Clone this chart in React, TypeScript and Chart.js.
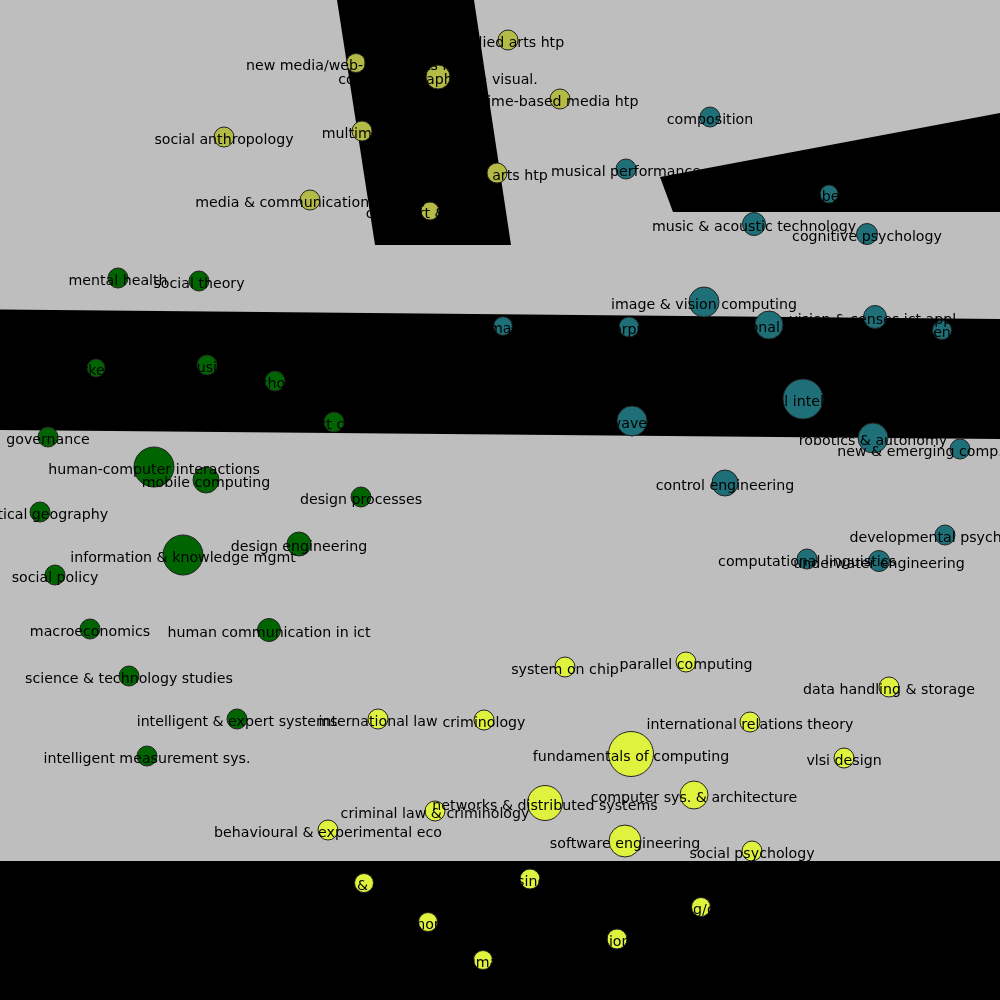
import { useEffect, useRef } from "react"
import { Chart, registerables } from "chart.js"

Chart.register(...registerables)

// arts / media cluster
const oliveLabels = [
  "social anthropology",
  "media & communication studies",
  "new media/web-based arts htp",
  "computer graphics & visual.",
  "multimedia",
  "applied arts htp",
  "time-based media htp",
  "visual arts htp",
  "cyber art & media",
]
const oliveX = [224, 310, 356, 438, 362, 508, 560, 497, 430]
const oliveY = [137, 200, 63, 77, 131, 40, 99, 173, 211]
const oliveR = [10, 10, 9.5, 12, 10, 10, 10, 10, 9]

// music / ai / robotics cluster
const tealLabels = [
  "composition",
  "musical performance",
  "fiber",
  "music & acoustic technology",
  "cognitive psychology",
  "image & vision computing",
  "computational perception",
  "vision & senses ict appl.",
  "agenda",
  "animation",
  "corpus",
  "artificial intelligence",
  "waves",
  "robotics & autonomy",
  "new & emerging comp. paradigms",
  "control engineering",
  "developmental psychology",
  "computational linguistics",
  "underwater engineering",
]
const tealX = [710, 626, 829, 754, 867, 704, 769, 875, 942, 503, 629, 803, 632, 873, 960, 725, 945, 807, 879]
const tealY = [117, 169, 194, 224, 234, 302, 325, 317, 330, 326, 327, 399, 421, 438, 449, 483, 535, 559, 561]
const tealR = [10, 10, 9, 11.5, 10.5, 15, 14, 11.5, 9.5, 9.3, 10, 20, 15, 15, 10, 13, 10, 10, 10.5]

// social science / hci cluster
const greenLabels = [
  "mental health",
  "social theory",
  "marketing",
  "housing",
  "school",
  "contact centres",
  "governance",
  "human-computer interactions",
  "mobile computing",
  "political geography",
  "design processes",
  "information & knowledge mgmt",
  "design engineering",
  "social policy",
  "macroeconomics",
  "human communication in ict",
  "science & technology studies",
  "intelligent & expert systems",
  "intelligent measurement sys.",
]
const greenX = [118, 199, 96, 207, 275, 334, 48, 154, 206, 40, 361, 183, 299, 55, 90, 269, 129, 237, 147]
const greenY = [278, 281, 368, 365, 381, 422, 437, 467, 480, 512, 497, 555, 544, 575, 629, 630, 676, 719, 756]
const greenR = [10, 10, 9, 10, 10, 10, 10, 20, 13, 10, 10, 20, 12, 10, 10, 11.5, 10, 10, 10]

// computing / law cluster
const yellowLabels = [
  "system on chip",
  "parallel computing",
  "data handling & storage",
  "international law",
  "criminology",
  "international relations theory",
  "fundamentals of computing",
  "vlsi design",
  "computer sys. & architecture",
  "networks & distributed systems",
  "criminal law & criminology",
  "behavioural & experimental eco",
  "software engineering",
  "social psychology",
  "r & d",
  "business",
  "minority",
  "pragmatics",
  "pension law",
  "imaging/display",
]
const yellowX = [565, 686, 889, 378, 484, 750, 631, 844, 694, 545, 435, 328, 625, 752, 364, 530, 428, 483, 617, 701]
const yellowY = [667, 662, 687, 719, 720, 722, 754, 758, 795, 803, 811, 830, 841, 851, 883, 879, 922, 960, 939, 907]
const yellowR = [10, 10, 10, 10, 10, 10, 22.5, 10, 14, 17.5, 10, 10, 16, 10, 9.5, 10, 9.5, 9.5, 10, 9.5]

// black occluding shapes
const topBlockX = [337, 474, 511, 375]
const topBlockY = [0, 0, 245, 245]
const rightBlockX = [660, 1000, 1000, 673]
const rightBlockY = [177, 113, 212, 212]
const midBandX = [0, 1000, 1000, 0]
const midBandY = [309.5, 319, 439, 430]
const bottomBandX = [0, 1000, 1000, 0]
const bottomBandY = [861, 861, 1000, 1000]

const blocks = [
  [topBlockX, topBlockY],
  [rightBlockX, rightBlockY],
  [midBandX, midBandY],
  [bottomBandX, bottomBandY],
]

const groups = [
  { labels: oliveLabels, xs: oliveX, ys: oliveY, rs: oliveR, color: "#b3ba45" },
  { labels: tealLabels, xs: tealX, ys: tealY, rs: tealR, color: "#1e6f78" },
  { labels: greenLabels, xs: greenX, ys: greenY, rs: greenR, color: "#006400" },
  { labels: yellowLabels, xs: yellowX, ys: yellowY, rs: yellowR, color: "#dff23e" },
]

const blocksPlugin = {
  id: "blocks",
  beforeDatasetsDraw(chart: any) {
    const { ctx, scales } = chart
    ctx.save()
    ctx.fillStyle = "#000"
    for (const [xs, ys] of blocks) {
      ctx.beginPath()
      xs.forEach((v, i) => {
        const px = scales.x.getPixelForValue(v)
        const py = scales.y.getPixelForValue(ys[i])
        if (i === 0) ctx.moveTo(px, py)
        else ctx.lineTo(px, py)
      })
      ctx.closePath()
      ctx.fill()
    }
    ctx.restore()
  },
}

// labels centred on each bubble, drawn over everything
const labelsPlugin = {
  id: "bubbleLabels",
  afterDatasetsDraw(chart: any) {
    const { ctx } = chart
    ctx.save()
    ctx.font = '14.2px "DejaVu Sans"'
    ctx.fillStyle = "#000"
    ctx.textAlign = "center"
    ctx.textBaseline = "middle"
    groups.forEach((g, i) => {
      const meta = chart.getDatasetMeta(i)
      meta.data.forEach((el: any, j: number) => {
        ctx.fillText(g.labels[j], el.x, el.y + 3)
      })
    })
    ctx.restore()
  },
}

export default function App() {
  const chartRef = useRef<HTMLCanvasElement>(null)
  const chartInstance = useRef<Chart | null>(null)

  useEffect(() => {
    document.body.style.margin = "0"
    if (!chartRef.current) return
    if (chartInstance.current) chartInstance.current.destroy()

    const ctx = chartRef.current.getContext("2d")
    if (!ctx) return

    chartInstance.current = new Chart(ctx, {
      type: "bubble",
      data: {
        datasets: groups.map((g) => ({
          data: g.xs.map((x, i) => ({ x, y: g.ys[i], r: g.rs[i] })),
          backgroundColor: g.color,
          borderColor: "#222",
          borderWidth: 1,
          clip: false,
        })),
      },
      options: {
        animation: false,
        responsive: true,
        maintainAspectRatio: false,
        layout: { padding: 0, autoPadding: false },
        scales: {
          x: { type: "linear", min: 0, max: 1000, display: false },
          y: { type: "linear", min: 0, max: 1000, reverse: true, display: false },
        },
        plugins: {
          legend: { display: false },
          tooltip: { enabled: false },
        },
      },
      plugins: [blocksPlugin, labelsPlugin],
    })

    return () => {
      if (chartInstance.current) {
        chartInstance.current.destroy()
        chartInstance.current = null
      }
    }
  }, [])

  return (
    <div style={{ width: 1000, height: 1000, background: "#bebebe", position: "relative" }}>
      <canvas ref={chartRef} />
    </div>
  )
}
